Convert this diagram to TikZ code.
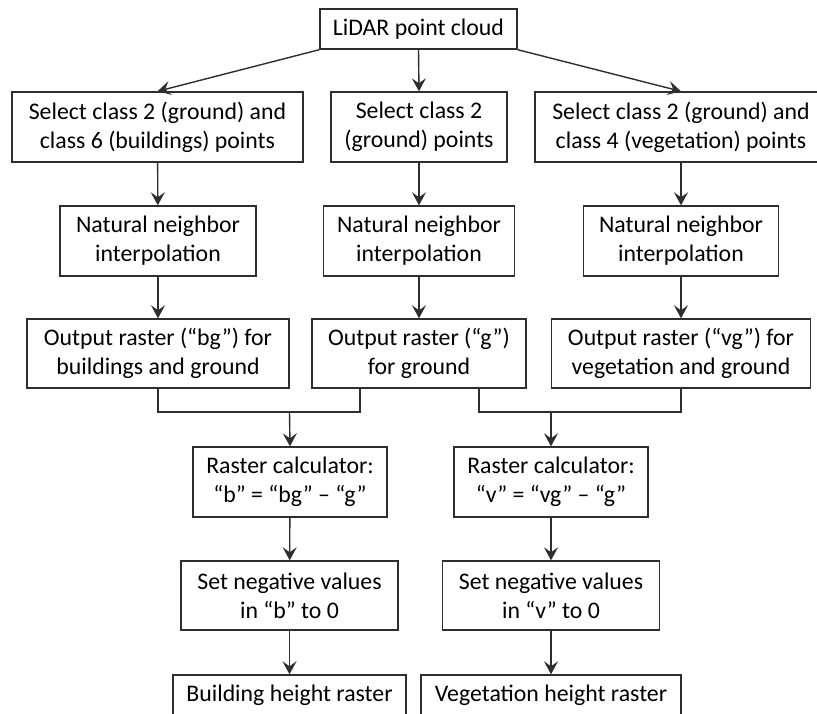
\documentclass[tikz,border=0pt]{standalone}
\usepackage{fontspec}
\setmainfont{Carlito}
\usetikzlibrary{arrows.meta}
\definecolor{ln}{HTML}{2E2E2E}
\tikzset{
  box/.style={draw=ln, line width=1.4pt, fill=white, align=center, inner sep=0pt,
    font=\fontsize{23.8}{29}\selectfont, text=black},
  arr/.style={draw=ln, line width=1.4pt, -{Stealth[length=13pt,width=14pt,inset=5pt]}},
  ln/.style={draw=ln, line width=1.4pt}
}
\begin{document}
\begin{tikzpicture}[x=1pt,y=-1pt]
\useasboundingbox (0,0) rectangle (817,713);
\clip (0,0) rectangle (817,713);
\fill[white] (0,0) rectangle (817,713);
% row 1
\node[box, minimum width=197, minimum height=40] (lidar) at (418.5,29) {LiDAR point cloud};
% row 2
\node[box, minimum width=291, minimum height=70] (sel1) at (157.5,127) {Select class 2 (ground) and\\class 6 (buildings) points};
\node[box, minimum width=176, minimum height=70] (sel2) at (419,127) {Select class 2\\(ground) points};
\node[box, minimum width=292, minimum height=70] (sel3) at (681,127) {Select class 2 (ground) and\\class 4 (vegetation) points};
% row 3
\node[box, minimum width=196, minimum height=70] (nn1) at (158,241) {Natural neighbor\\interpolation};
\node[box, minimum width=191, minimum height=70] (nn2) at (419,241) {Natural neighbor\\interpolation};
\node[box, minimum width=195, minimum height=70] (nn3) at (681,241) {Natural neighbor\\interpolation};
% row 4
\node[box, minimum width=262, minimum height=69] (out1) at (158,353.5) {Output raster (“bg”) for\\buildings and ground};
\node[box, minimum width=214, minimum height=69] (out2) at (419,353.5) {Output raster (“g”)\\for ground};
\node[box, minimum width=259, minimum height=69] (out3) at (681,353.5) {Output raster (“vg”) for\\vegetation and ground};
% row 5
\node[box, minimum width=194, minimum height=70] (rc1) at (290,482) {Raster calculator:\\“b” = “bg” – “g”};
\node[box, minimum width=194, minimum height=70] (rc2) at (551,482) {Raster calculator:\\“v” = “vg” – “g”};
% row 6
\node[box, minimum width=217, minimum height=69] (sn1) at (289.5,595.5) {Set negative values\\in “b” to 0};
\node[box, minimum width=217, minimum height=69] (sn2) at (551,595.5) {Set negative values\\in “v” to 0};
% row 7
\node[box, minimum width=233, minimum height=40] (bh1) at (289.5,695) {Building height raster};
\node[box, minimum width=260, minimum height=40] (bh2) at (551,695) {Vegetation height raster};
% coordinates
\coordinate (o2l) at (360,388);
\coordinate (o2r) at (479,388);
\coordinate (m1) at (289.5,412);
\coordinate (m2) at (551,412);
% connectors
\draw[arr] (lidar.south west) -- (sel1.north);
\draw[arr] (lidar.south) -- (sel2.north);
\draw[arr] (lidar.south east) -- (sel3.north);
\draw[arr] (sel1) -- (nn1);
\draw[arr] (sel2) -- (nn2);
\draw[arr] (sel3) -- (nn3);
\draw[arr] (nn1) -- (out1);
\draw[arr] (nn2) -- (out2);
\draw[arr] (nn3) -- (out3);
\draw[ln] (out1.south) |- (m1) -| (o2l);
\draw[ln] (o2r) |- (m2) -| (out3.south);
\draw[arr] (m1) -- (rc1.north);
\draw[arr] (m2) -- (rc2.north);
\draw[arr] (rc1) -- (sn1);
\draw[arr] (rc2) -- (sn2);
\draw[arr] (sn1) -- (bh1);
\draw[arr] (sn2) -- (bh2);
\end{tikzpicture}
\end{document}
